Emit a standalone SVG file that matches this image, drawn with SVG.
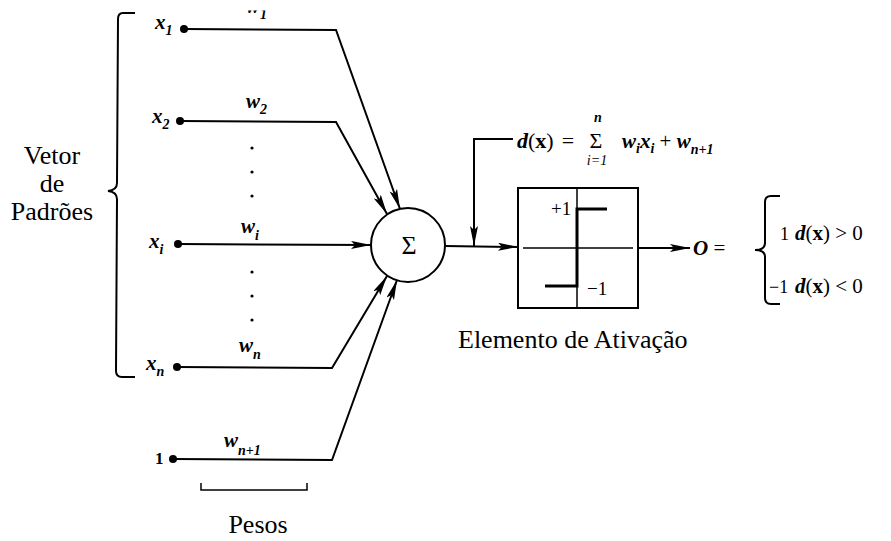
<svg xmlns="http://www.w3.org/2000/svg" width="891" height="541" viewBox="0 0 891 541">
<style>
  .ln { stroke:#000; stroke-width:2; fill:none; }
  .thin { stroke:#000; stroke-width:1.5; fill:none; }
  .step { stroke:#000; stroke-width:3; fill:none; }
  .dot { fill:#000; }
</style>
<defs>
  <marker id="ah" viewBox="0 0 20 8" refX="20" refY="4" markerWidth="20" markerHeight="8" orient="auto" markerUnits="userSpaceOnUse">
    <path d="M0,0 L20,4 L0,8 L4,4 z" fill="#000"/>
  </marker>
  <clipPath id="topclip"><rect x="0" y="10.5" width="891" height="40"/></clipPath>
</defs>
<rect width="891" height="541" fill="#fff"/>

<g id="brace-left" font-family="Liberation Serif, serif" font-size="26">
  <path class="ln" d="M135,13 L123,13 Q118,13 118,19 L117,183 Q117,190 108,191 Q117,192 117,199 L116,371 Q116,377 122,377 L135,377"/>
  <text x="52" y="164" text-anchor="middle">Vetor</text>
  <text x="52" y="192" text-anchor="middle">de</text>
  <text x="52" y="220" text-anchor="middle">Padrões</text>
</g>

<g id="input-x1">
  <circle class="dot" cx="184" cy="29" r="4"/>
  <text x="155" y="29" font-family="Liberation Serif, serif" font-style="italic" font-weight="bold" font-size="21">x<tspan font-size="14" dy="6">1</tspan></text>
</g>
<g id="input-x2">
  <circle class="dot" cx="180" cy="121" r="4"/>
  <text x="152" y="123" font-family="Liberation Serif, serif" font-style="italic" font-weight="bold" font-size="21">x<tspan font-size="14" dy="6">2</tspan></text>
</g>
<g id="input-xi">
  <circle class="dot" cx="178" cy="244" r="4"/>
  <text x="149" y="248" font-family="Liberation Serif, serif" font-style="italic" font-weight="bold" font-size="21">x<tspan font-size="14" dy="6">i</tspan></text>
</g>
<g id="input-xn">
  <circle class="dot" cx="177" cy="367" r="4"/>
  <text x="146" y="370" font-family="Liberation Serif, serif" font-style="italic" font-weight="bold" font-size="21">x<tspan font-size="14" dy="6">n</tspan></text>
</g>
<g id="input-bias">
  <circle class="dot" cx="173" cy="459" r="4"/>
  <text x="155" y="464" font-family="Liberation Serif, serif" font-weight="bold" font-size="17">1</text>
</g>

<g id="weights" font-family="Liberation Serif, serif" font-style="italic" font-weight="bold" font-size="21">
  <text x="246" y="13" clip-path="url(#topclip)">w<tspan font-size="14" dy="6">1</tspan></text>
  <text x="246" y="108">w<tspan font-size="14" dy="6">2</tspan></text>
  <text x="241" y="233">w<tspan font-size="14" dy="7">i</tspan></text>
  <text x="239" y="352">w<tspan font-size="14" dy="7">n</tspan></text>
  <text x="224" y="447">w<tspan font-size="14" dy="8">n+1</tspan></text>
  <circle class="dot" cx="252" cy="148" r="1.6"/>
  <circle class="dot" cx="252" cy="172" r="1.6"/>
  <circle class="dot" cx="252" cy="196" r="1.6"/>
  <circle class="dot" cx="252" cy="272" r="1.6"/>
  <circle class="dot" cx="252" cy="296" r="1.6"/>
  <circle class="dot" cx="252" cy="320" r="1.6"/>
</g>

<g id="pesos">
  <path class="thin" d="M201,483 L201,490 L307,490 L307,483"/>
  <text x="258" y="533" text-anchor="middle" font-family="Liberation Serif, serif" font-size="26">Pesos</text>
</g>

<g id="connectors">
  <polyline class="ln" points="184,29 336,30 400,209" marker-end="url(#ah)"/>
  <polyline class="ln" points="180,121 336,122 387,214" marker-end="url(#ah)"/>
  <line class="ln" x1="178" y1="244" x2="371" y2="245" marker-end="url(#ah)"/>
  <polyline class="ln" points="177,367 332,368 387,276" marker-end="url(#ah)"/>
  <polyline class="ln" points="173,459 332,460 397,280" marker-end="url(#ah)"/>
  <line class="ln" x1="445" y1="246" x2="518" y2="247" marker-end="url(#ah)"/>
  <polyline class="ln" points="513,139 474,139 474,246" marker-end="url(#ah)"/>
  <line class="ln" x1="638" y1="248" x2="690" y2="248" marker-end="url(#ah)"/>
</g>

<g id="sum-node">
  <circle cx="408" cy="245" r="37" fill="#fff" stroke="#000" stroke-width="2"/>
  <text x="409" y="254" font-family="Liberation Serif, serif" font-size="26" text-anchor="middle">Σ</text>
</g>

<g id="formula" font-family="Liberation Serif, serif" font-size="22">
  <text x="517" y="148"><tspan font-style="italic" font-weight="bold">d</tspan>(<tspan font-weight="bold">x</tspan>)<tspan dx="8">=</tspan></text>
  <text x="596" y="148" font-size="22" text-anchor="middle">Σ</text>
  <text x="598" y="122" font-size="14" font-style="italic" font-weight="bold" text-anchor="middle">n</text>
  <text x="597" y="165" font-size="14" font-style="italic" text-anchor="middle">i=1</text>
  <text x="622" y="148" font-size="21" font-style="italic" font-weight="bold">w<tspan font-size="14" dy="5">i</tspan><tspan dy="-5">x</tspan><tspan font-size="14" dy="5">i</tspan><tspan dy="-5" font-style="normal" font-weight="normal"> + </tspan>w<tspan font-size="14" dy="6">n+1</tspan></text>
</g>

<g id="activation" font-family="Liberation Serif, serif">
  <rect x="518" y="188" width="120" height="120" fill="none" stroke="#000" stroke-width="2"/>
  <line class="thin" x1="523" y1="248" x2="633" y2="248"/>
  <line class="thin" x1="577" y1="188" x2="577" y2="308"/>
  <path class="step" d="M545,286 L577,286 L577,209 L607,209"/>
  <text x="551" y="215" font-size="19">+1</text>
  <text x="587" y="295" font-size="19">−1</text>
  <text x="458" y="348" font-size="26">Elemento de Ativação</text>
</g>

<g id="output" font-family="Liberation Serif, serif" font-size="21">
  <text x="693" y="255"><tspan font-style="italic" font-weight="bold">O</tspan> =</text>
  <path class="ln" d="M780,196 L771,196 Q765,196 765,202 L765,243 Q765,250 755,250 Q765,250 765,257 L765,298 Q765,304 771,304 L780,304"/>
  <text x="780" y="240" font-size="18">1</text>
  <text x="795" y="240"><tspan font-style="italic" font-weight="bold">d</tspan>(<tspan font-weight="bold">x</tspan>) &gt; 0</text>
  <text x="769" y="293" font-size="18">−1</text>
  <text x="795" y="293"><tspan font-style="italic" font-weight="bold">d</tspan>(<tspan font-weight="bold">x</tspan>) &lt; 0</text>
</g>
</svg>
